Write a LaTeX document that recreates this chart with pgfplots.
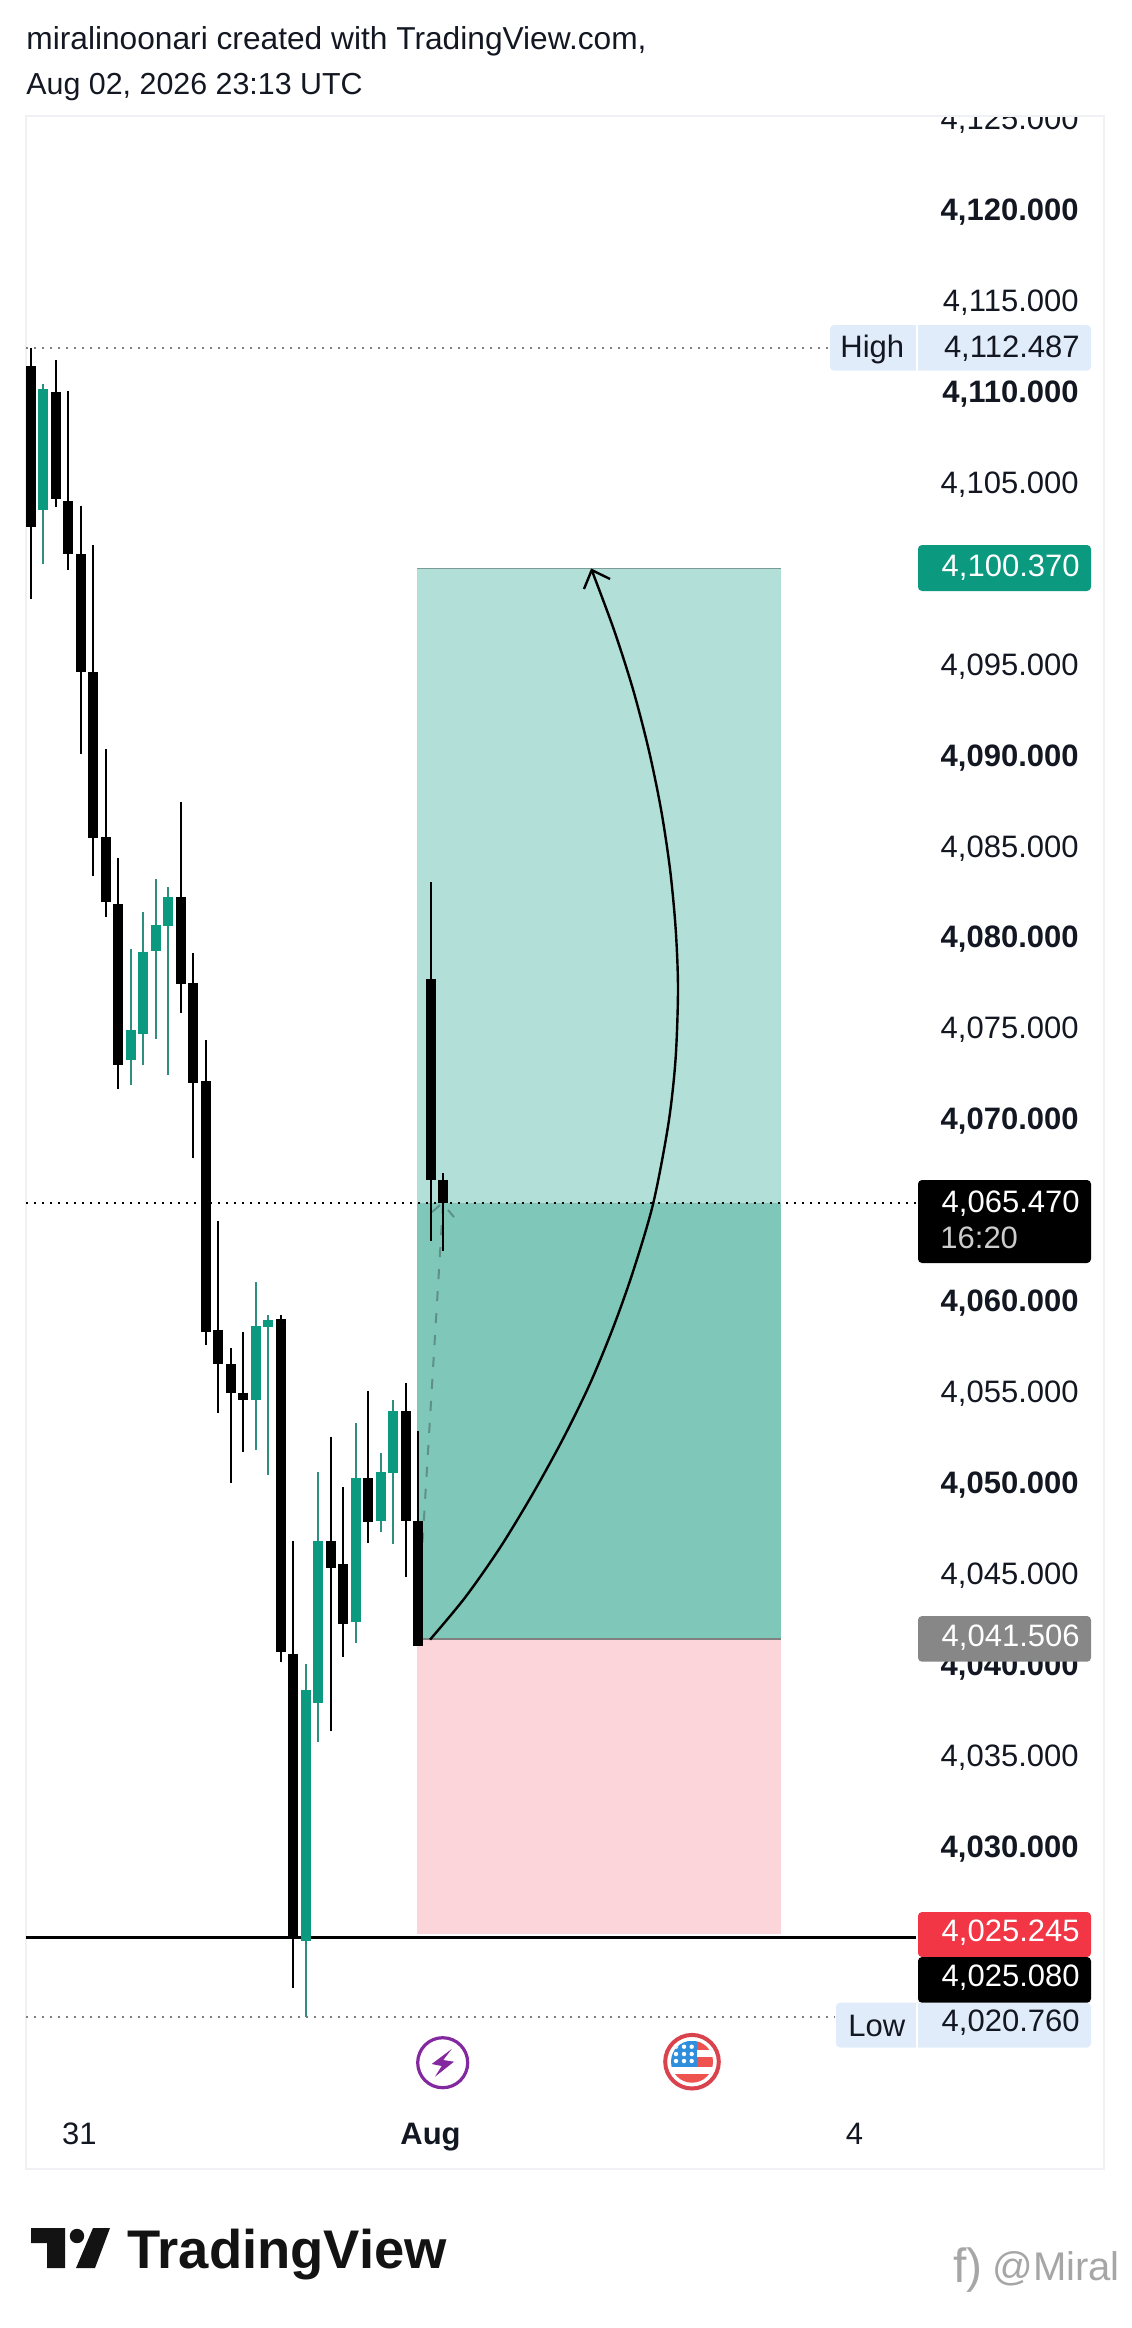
\documentclass[border=0pt]{standalone}
\usepackage{fontspec}
\setmainfont{Liberation Sans}
\usepackage{pgfplots}
\pgfplotsset{compat=1.18}
\definecolor{up}{HTML}{0B9A80}
\definecolor{bodyg}{HTML}{0B9A80}
\definecolor{wickg}{HTML}{2E8F80}
\definecolor{bodyk}{HTML}{000000}
\definecolor{wickk}{HTML}{000000}
\definecolor{tpfill}{HTML}{B2DFD8}
\definecolor{midfill}{HTML}{7FC8B9}
\definecolor{slfill}{HTML}{FBD5D9}
\definecolor{tagblue}{HTML}{E1ECFA}
\definecolor{pane}{HTML}{EFF1F4}
\definecolor{txt}{HTML}{131722}
\definecolor{tagred}{HTML}{F23645}
\definecolor{ipurple}{HTML}{8428A0}
\definecolor{ired}{HTML}{D9434E}
\definecolor{iblue}{HTML}{2F8FDD}
\definecolor{istripe}{HTML}{EF5350}
\definecolor{logo}{HTML}{131313}
\definecolor{dashc}{HTML}{5F8F87}
\newcommand{\candle}[6]{%
  \addplot[forget plot,no markers,draw=wick#6,line width=1pt] coordinates {(#1,#2)(#1,#5)};
  \addplot[forget plot,no markers,draw=body#6,line width=5pt] coordinates {(#1,#3)(#1,#4)};}
\newcommand{\fs}{\fontsize{15.5}{18}\selectfont}
\begin{document}
\begin{tikzpicture}
\path[use as bounding box] (0,0) rectangle (565.5pt,-1164pt);
\begin{axis}[
  at={(13pt,-1084.5pt)},anchor=south west,
  scale only axis,width=539pt,height=1026.65pt,
  xmin=-0.4005,xmax=85.94,ymin=4012.377,ymax=4125.258,
  axis line style={draw=pane,line width=1pt},
  tick style={draw=none},major tick length=0pt,
  yticklabel pos=right,
  ytick={4030,4035,4040,4045,4050,4055,4060,4070,4075,4080,4085,4090,4095,4105,4110,4115,4120,4125},
  yticklabels={\textbf{4{,}030.000},{4,035.000},\textbf{4{,}040.000},{4,045.000},\textbf{4{,}050.000},{4,055.000},\textbf{4{,}060.000},\textbf{4{,}070.000},{4,075.000},\textbf{4{,}080.000},{4,085.000},\textbf{4{,}090.000},{4,095.000},{4,105.000},\textbf{4{,}110.000},{4,115.000},\textbf{4{,}120.000},{4,125.000}},
  y tick label style={anchor=east,xshift=-12.5pt,yshift=1pt,inner sep=0pt,text height=11pt,text depth=0pt,font=\fs,text=txt},
  xtick={3.88,32,65.95},
  xticklabels={31,\textbf{Aug},4},
  x tick label style={anchor=center,yshift=18pt,inner sep=0pt,text height=11pt,text depth=0pt,font=\fs,text=txt},
]
% position boxes
\addplot[forget plot,draw=none,fill=tpfill] coordinates {(30.92,4065.47)(60.07,4065.47)(60.07,4100.37)(30.92,4100.37)} --cycle;
\addplot[forget plot,draw=none,fill=midfill] coordinates {(30.92,4041.506)(60.07,4041.506)(60.07,4065.47)(30.92,4065.47)} --cycle;
\addplot[forget plot,draw=none,fill=slfill] coordinates {(30.92,4025.3)(60.07,4025.3)(60.07,4041.506)(30.92,4041.506)} --cycle;
\addplot[forget plot,no markers,draw=black!30!tpfill,line width=0.7pt] coordinates {(30.92,4100.37)(60.07,4100.37)};
\addplot[forget plot,no markers,draw=black!50,line width=1pt] coordinates {(30.92,4041.506)(60.07,4041.506)};
% horizontal lines
\addplot[forget plot,no markers,draw=black!50,line width=1pt,dash pattern=on 1pt off 3pt] coordinates {(-0.4,4112.487)(64.0,4112.487)};
\addplot[forget plot,no markers,draw=black!50,line width=1pt,dash pattern=on 1pt off 3pt] coordinates {(-0.4,4020.76)(64.4,4020.76)};
\addplot[forget plot,no markers,draw=black,line width=1.2pt,dash pattern=on 1.2pt off 2.8pt] coordinates {(-0.4,4065.47)(71.05,4065.47)};
\addplot[forget plot,no markers,draw=black,line width=1.5pt] coordinates {(-0.4,4025.08)(70.9,4025.08)};
% dashed forecast
\addplot[forget plot,no markers,draw=dashc,line width=1pt,dash pattern=on 5pt off 6pt] coordinates {(33,4065.47)(31.08,4043.66)};
\addplot[forget plot,no markers,draw=dashc,line width=1pt] coordinates {(32.12,4064.99)(32.76,4065.37)};
\addplot[forget plot,no markers,draw=dashc,line width=1pt] coordinates {(33.40,4065.10)(33.88,4064.71)};
% candles: index, high, body top, body bottom, low, colour
\candle{0}{4112.49}{4111.50}{4102.66}{4098.70}{k}
\candle{1}{4110.51}{4110.23}{4103.58}{4100.61}{g}
\candle{2}{4111.83}{4110.07}{4104.19}{4103.76}{k}
\candle{3}{4110.12}{4104.08}{4101.16}{4100.28}{k}
\candle{4}{4103.80}{4101.16}{4094.69}{4090.17}{k}
\candle{5}{4101.66}{4094.69}{4085.55}{4083.48}{k}
\candle{6}{4090.44}{4085.61}{4082.05}{4081.23}{k}
\candle{7}{4084.45}{4081.92}{4073.09}{4071.75}{k}
\candle{8}{4079.45}{4075.00}{4073.36}{4071.97}{g}
\candle{9}{4081.48}{4079.28}{4074.75}{4073.09}{g}
\candle{10}{4083.30}{4080.77}{4079.32}{4074.52}{g}
\candle{11}{4082.86}{4082.31}{4080.73}{4072.54}{g}
\candle{12}{4087.53}{4082.31}{4077.55}{4075.95}{k}
\candle{13}{4079.23}{4077.58}{4072.10}{4067.98}{k}
\candle{14}{4074.45}{4072.19}{4058.39}{4057.68}{k}
\candle{15}{4064.50}{4058.50}{4056.66}{4053.96}{k}
\candle{16}{4057.51}{4056.66}{4055.02}{4050.11}{k}
\candle{17}{4058.39}{4055.06}{4054.66}{4051.80}{k}
\candle{18}{4061.14}{4058.72}{4054.66}{4051.91}{g}
\candle{19}{4059.33}{4059.05}{4058.69}{4050.53}{g}
\candle{20}{4059.33}{4059.11}{4040.80}{4040.25}{k}
\candle{21}{4046.90}{4040.69}{4025.03}{4022.35}{k}
\candle{22}{4040.14}{4038.71}{4024.93}{4020.76}{g}
\candle{23}{4050.70}{4046.90}{4038.00}{4035.87}{g}
\candle{24}{4052.62}{4046.90}{4045.44}{4036.48}{k}
\candle{25}{4049.87}{4045.64}{4042.36}{4040.54}{k}
\candle{26}{4053.39}{4050.37}{4042.47}{4041.31}{g}
\candle{27}{4055.15}{4050.37}{4047.97}{4046.81}{k}
\candle{28}{4051.74}{4050.70}{4048.02}{4047.42}{g}
\candle{29}{4054.66}{4054.05}{4050.66}{4046.76}{g}
\candle{30}{4055.59}{4054.05}{4048.02}{4044.94}{k}
\candle{31}{4052.95}{4048.00}{4041.15}{4041.15}{k}
\candle{32}{4083.13}{4077.80}{4066.77}{4063.40}{k}
\candle{33}{4067.13}{4066.77}{4065.47}{4062.86}{k}
% curved arrow
\addplot[forget plot,no markers,smooth,draw=black,line width=1.2pt] coordinates {(31.96,4041.48)(34.76,4043.79)(37.57,4046.54)(40.23,4049.55)(42.64,4052.56)(44.77,4055.55)(46.64,4058.66)(48.24,4061.76)(49.84,4065.48)(51.05,4069.83)(51.62,4073.35)(51.82,4077.20)(51.64,4080.49)(51.19,4083.79)(50.47,4087.09)(49.48,4090.39)(48.23,4093.69)(46.70,4096.98)(44.91,4100.28)};
\addplot[forget plot,no markers,draw=black,line width=1.2pt] coordinates {(44.29,4099.24)(44.91,4100.28)(46.38,4099.79)};
\end{axis}
\begin{scope}[x=0.5pt,y=-0.5pt]
% trim the top tick label at the pane edge
\fill[white] (900,100) rectangle (1103,115.2);
\draw[pane,line width=1pt] (26,115.7) -- (1104,115.7);
% title
\node[anchor=base west,inner sep=0,text=txt,font=\fontsize{15.85}{18}\selectfont] at (26,50) {miralinoonari created with TradingView.com,};
\node[anchor=base west,inner sep=0,text=txt,font=\fontsize{15.2}{18}\selectfont] at (26,95) {Aug 02, 2026 23:13 UTC};
% price tags
\fill[tagblue,rounded corners=2pt] (830,325) rectangle (1091,370.7);
\fill[white] (916,325) rectangle (918,370.7);
\node[anchor=base west,inner sep=0,text=txt,font=\fs] at (840,357) {High};
\node[anchor=base east,inner sep=0,text=txt,font=\fs] at (1080,357) {4,112.487};
\fill[up,rounded corners=2pt] (918,545) rectangle (1091,591);
\node[anchor=base east,inner sep=0,text=white,font=\fs] at (1080,576) {4,100.370};
\fill[black,rounded corners=2pt] (918,1180) rectangle (1091,1263);
\node[anchor=base east,inner sep=0,text=white,font=\fs] at (1080,1212) {4,065.470};
\node[anchor=base west,inner sep=0,text=black!20,font=\fs] at (940,1248) {16:20};
\fill[black!47,rounded corners=2pt] (918,1616) rectangle (1091,1661.7);
\node[anchor=base east,inner sep=0,text=white,font=\fs] at (1080,1646) {4,041.506};
\fill[tagblue,rounded corners=2pt] (836,2002.7) rectangle (1091,2047.5);
\fill[white] (916,2002.7) rectangle (918,2047.5);
\node[anchor=base west,inner sep=0,text=txt,font=\fs] at (848,2036) {Low};
\node[anchor=base east,inner sep=0,text=txt,font=\fs] at (1080,2031.7) {4,020.760};
\fill[tagred,rounded corners=2pt] (918,1912) rectangle (1091,1957);
\node[anchor=base east,inner sep=0,text=white,font=\fs] at (1080,1941.7) {4,025.245};
\fill[black,rounded corners=2pt] (918,1957) rectangle (1091,2002.7);
\node[anchor=base east,inner sep=0,text=white,font=\fs] at (1080,1986.7) {4,025.080};
% event icons
\draw[ipurple,line width=1.6pt] (442.7,2062.7) circle[radius=12.5pt];
\fill[ipurple] (451.7,2049) -- (443.3,2060) -- (454,2061.7) -- (435,2076.7) -- (441.7,2066) -- (431.7,2064) -- cycle;
\draw[ired,line width=2pt] (692,2061.7) circle[radius=13.4pt];
\begin{scope}
\clip (692,2061.7) circle[radius=10.5pt];
\fill[iblue] (671,2041) rectangle (696.7,2066.7);
\fill[istripe] (696.7,2041) rectangle (714,2050);
\fill[istripe] (696.7,2057.3) rectangle (714,2066.7);
\fill[istripe] (670,2074) rectangle (714,2083);
\foreach \a in {676,684,691.7}{\foreach \b in {2046.7,2054,2061}{\fill[white] (\a,\b) circle[radius=1.1pt];}}
\end{scope}
% logo
\fill[logo] (31,2228) -- (65,2228) -- (65,2268) -- (47,2268) -- (47,2243) -- (31,2243) -- cycle;
\fill[logo] (77,2236) circle[radius=3.6pt];
\fill[logo] (93,2228) -- (110,2228) -- (95,2268) -- (76,2268) -- cycle;
\node[anchor=base west,inner sep=0,text=logo,font=\fontsize{27.2}{30}\selectfont\bfseries] at (127,2268) {TradingView};
% watermark
\node[anchor=base west,inner sep=0,text=black!35,font=\fontsize{24}{28}\selectfont] at (953,2282) {f)};
\node[anchor=base west,inner sep=0,text=black!35,font=\fontsize{20}{24}\selectfont] at (992,2280) {@Miral};
\end{scope}
\end{tikzpicture}
\end{document}
